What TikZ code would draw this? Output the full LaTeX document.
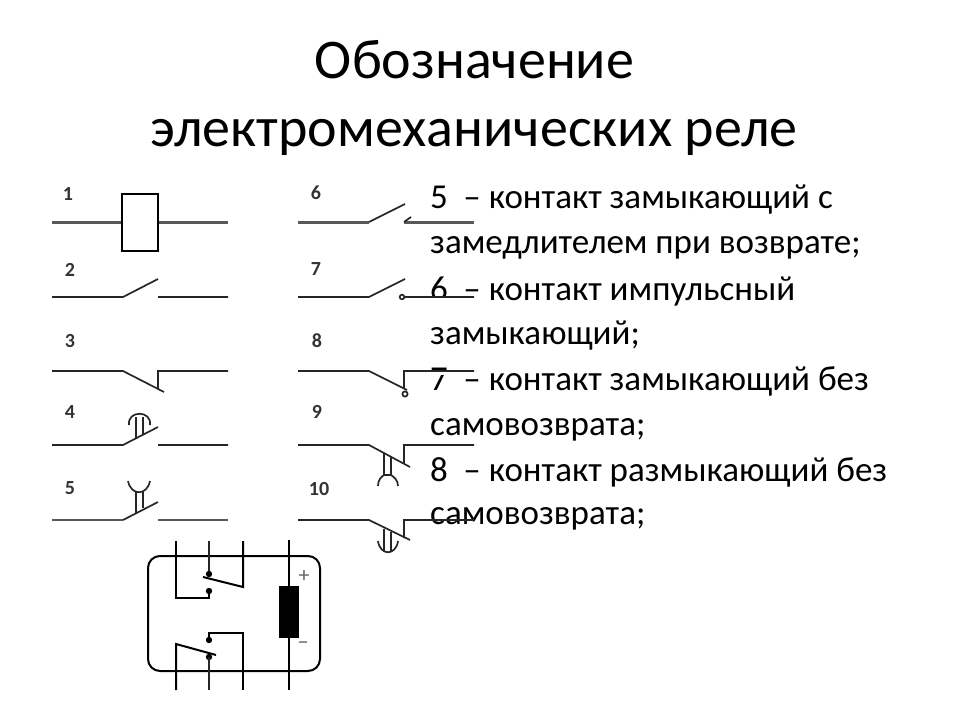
\documentclass[tikz,border=0pt]{standalone}
\usepackage{fontspec}
\setmainfont{Carlito}
\newcommand{\dg}[1]{#1\hspace{15.5pt}}
\begin{document}
\begin{tikzpicture}[x=1pt,y=-1pt,
  lightstroke/.style={line width=1.7pt,black!85},
  heavystroke/.style={line width=3pt,black!65},
  boxstroke/.style={line width=2pt,black},
  lab/.style={font=\fontsize{20}{20}\selectfont\bfseries,inner sep=0pt,text=black!80},
  ttl/.style={font=\fontsize{56}{56}\selectfont,inner sep=0pt,anchor=base,text=black},
  bod/.style={font=\fontsize{35}{35}\selectfont,inner sep=0pt,anchor=base west,text=black},
  sgn/.style={font=\fontsize{22}{22}\selectfont,inner sep=0pt,text=black!60}]
\useasboundingbox (0,0) rectangle (960,720);
% text
\node[ttl] (t1) at (474.5,78) {Обозначение};
\node[ttl] (t2) at (474,146) {электромеханических реле};
\node[bod] (b1) at (430,208) {\dg{5}– контакт замыкающий с};
\node[bod] (b2) at (430,253) {замедлителем при возврате;};
\node[bod] (b3) at (430,300) {\dg{6}– контакт импульсный};
\node[bod] (b4) at (430,344) {замыкающий;};
\node[bod] (b5) at (430,390) {\dg{7}– контакт замыкающий без};
\node[bod] (b6) at (430,435) {самовозврата;};
\node[bod] (b7) at (430,481) {\dg{8}– контакт размыкающий без};
\node[bod] (b8) at (430,524) {самовозврата;};
% white strips of the overlaid drawing
\fill[white] (404,295.5) rectangle (474,302);
\fill[white] (404,369.5) rectangle (474,374.5);
% labels
\foreach \n/\x/\y in {1/68/194,2/70/270,3/70/341,4/70/412,5/70/488,6/316/193,7/316/269,8/317/341,9/317/412,10/319/489}
  \node[lab] (l\n) at (\x,\y) {\n};
% 1 coil
\draw[heavystroke] (52,222) -- (122,222) (158,222) -- (228,222);
\draw[boxstroke,fill=white] (122,194) rectangle (158,251);
% 2
\draw[lightstroke] (52,297) -- (123,297) -- (158,279) (158,297) -- (228,297);
% 3
\draw[lightstroke] (52,371) -- (123,371) -- (164,392) (158,389) -- (158,371) -- (228,371);
% 4
\draw[lightstroke] (52,445) -- (123,445) -- (158,427) (158,445) -- (228,445);
\draw[lightstroke] (136,438) -- (136,417) (143,434) -- (143,417);
\draw[lightstroke] (129,425) .. controls (127,410) and (152,410) .. (150,425);
% 5
\draw[heavystroke,line width=2.4pt] (52,520) -- (123,520) (158,520) -- (228,520);
\draw[lightstroke] (123,520) -- (158,502);
\draw[lightstroke] (136,513) -- (136,492) (143,508) -- (143,492);
\draw[lightstroke] (128,481) .. controls (131,496) and (147,496) .. (150,481);
% 6
\draw[heavystroke] (298,222) -- (369,222) (404,222) -- (474,222);
\draw[lightstroke] (369,222) -- (405,204) (404,222) -- (411,217);
% 7
\draw[lightstroke] (298,297) -- (369,297) -- (405,279) (404.5,297) -- (474,297);
\draw[lightstroke,fill=white] (402,297) circle (2.3);
% 8
\draw[lightstroke] (298,371) -- (369,371) -- (407,390) (404,389) -- (404,371) -- (474,371);
\draw[lightstroke,fill=white] (405,394) circle (2.6);
% 9
\draw[lightstroke] (298,445) -- (369,445) -- (410,467) (404,463) -- (404,445) -- (474,445);
\draw[lightstroke] (384,453) -- (384,475) (391,456) -- (391,475) (384,475) -- (391,475);
\draw[lightstroke] (378,486) .. controls (378,480) and (381,477) .. (384,475);
\draw[lightstroke] (398,486) .. controls (398,480) and (394,477) .. (391,475);
% 10
\draw[lightstroke] (298,520) -- (369,520) -- (410,540) (404,538) -- (404,520) -- (474,520);
\draw[lightstroke] (384,529) -- (384,551) (391,532) -- (391,551);
\draw[lightstroke] (378,541) .. controls (380,556) and (396,556) .. (398,541);
% circuit
\draw[boxstroke] (148,568) arc[start angle=180,end angle=270,radius=12] -- (308,556) arc[start angle=270,end angle=360,radius=12] -- (320,659) arc[start angle=0,end angle=90,radius=12] -- (160,671) arc[start angle=90,end angle=180,radius=12] -- cycle;
\draw[boxstroke] (176,541) -- (176,598) -- (209,598) -- (209,591);
\draw[lightstroke] (209,541) -- (209,574);
\draw[boxstroke] (243,541) -- (243,587) -- (203,577);
\draw[boxstroke] (289,540) -- (289,690);
\fill[black] (279,586) rectangle (299,638);
\fill[black] (209,574) circle (3.2) (209,591) circle (3.2) (209,640) circle (3.2) (209,657) circle (3.2);
\draw[boxstroke] (176,690) -- (176,644) -- (216,655);
\draw[lightstroke] (209,657) -- (209,690);
\draw[boxstroke] (209,640) -- (209,633) -- (243,633) -- (243,690);
\node[sgn] (plus) at (304,576) {+};
\node[sgn] (minus) at (303,646) {−};
\end{tikzpicture}
\end{document}
